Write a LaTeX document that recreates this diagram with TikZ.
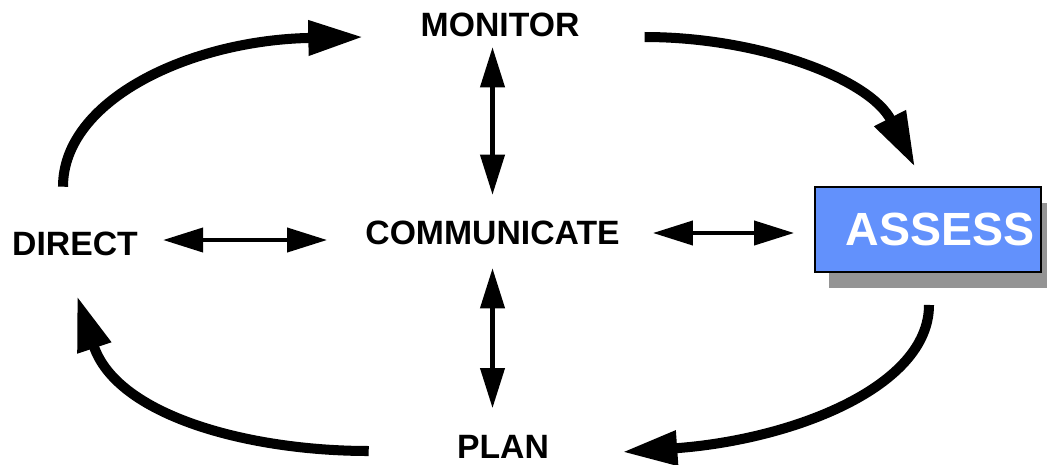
\documentclass[tikz,border=0pt]{standalone}
\usepackage{fontspec}
\setmainfont{Liberation Sans}
\usepackage{xcolor}
\usepackage{tikz}
\usetikzlibrary{arrows.meta,calc,shadows}
\definecolor{assessblue}{RGB}{98,145,252}
\definecolor{shadowgray}{RGB}{148,148,148}

\begin{document}
\begin{tikzpicture}[x=0.02cm, y=-0.02cm,
  font=\fontsize{19.2}{23}\selectfont\bfseries,
  word/.style={inner sep=0pt},
  bigarrow/.style={line width=5.7pt, -{Triangle[length=1.1cm,width=0.66cm]}},
  twoway/.style={line width=2.3pt, {Triangle[length=0.8cm,width=0.48cm]}-{Triangle[length=0.8cm,width=0.48cm]}}]
\useasboundingbox (0,0) rectangle (1047,464);
\node[word] (monitor) at (500,25) {MONITOR};
\node[word] (comm) at (492.5,233) {COMMUNICATE};
\node[word] (direct) at (75,243.5) {DIRECT};
\node[word] (plan) at (503,447) {PLAN};
\node[draw, line width=1.1pt, fill=assessblue, minimum width=4.52cm, minimum height=1.7cm,
  inner sep=0pt, text=white, font=\fontsize{26.5}{30}\selectfont\bfseries,
  drop shadow={shadow xshift=0.28cm, shadow yshift=-0.32cm, fill=shadowgray, opacity=1}]
  (assess) at (928,229.5) {\hspace{0.48cm}ASSESS};
\draw[bigarrow] ($(direct.north)+(-12,-44.5)$) .. controls +(0,-87) and +(-173,3) .. ($(monitor.west)+(-57,12)$);
\draw[bigarrow] ($(monitor.east)+(65,12)$) .. controls +(115,0) and +(-45,-88) .. ($(assess.north)+(-13,-19)$);
\draw[bigarrow] ($(assess.south)+(1,32)$) .. controls +(0,82) and +(170,-12) .. ($(plan.east)+(73,5)$);
\draw[bigarrow] ($(plan.west)+(-88,4)$) .. controls +(-120,0) and +(40,120) .. ($(direct.south)+(2,40)$);
\draw[twoway, shorten <=0.2cm, shorten >=0.52cm] (monitor.south -| comm.north) -- (comm.north);
\draw[twoway, shorten <=0.46cm, shorten >=0.54cm] (comm.south) -- (comm.south |- plan.north);
\draw[twoway, shorten <=0.5cm, shorten >=0.76cm] ($(direct.east)+(0,-3.5)$) -- ($(direct.east -| comm.west)+(0,-3.5)$);
\draw[twoway, shorten <=0.66cm, shorten >=0.4cm] (comm.east) -- (comm.east -| assess.west);
\end{tikzpicture}
\end{document}
